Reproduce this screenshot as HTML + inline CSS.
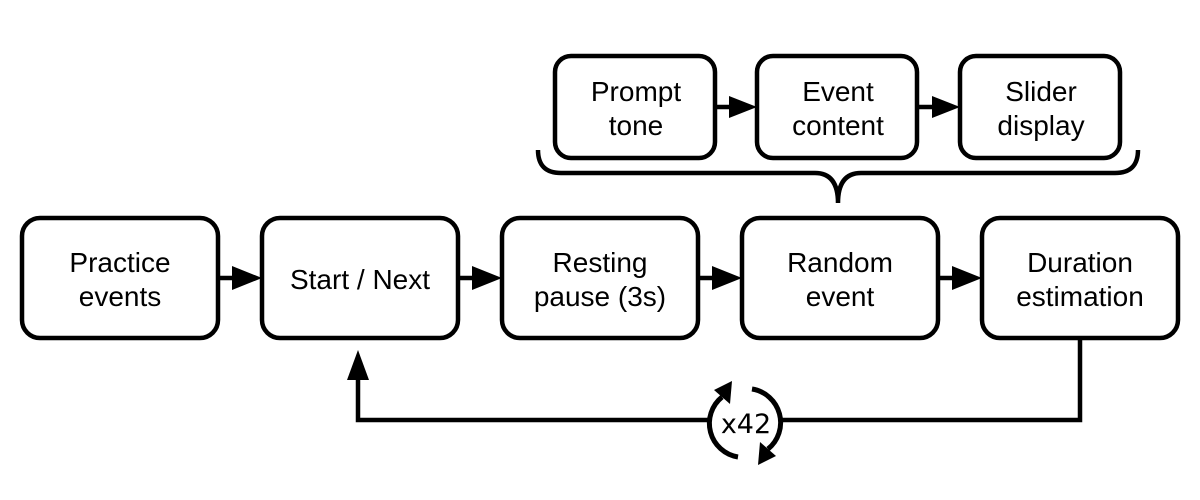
<!DOCTYPE html>
<html><head><meta charset="utf-8"><style>html,body{margin:0;background:#fff}svg{display:block}</style></head><body>
<svg width="1200" height="500" viewBox="0 0 1200 500" xmlns="http://www.w3.org/2000/svg">
<g fill="#fff" stroke="#000" stroke-width="4.5">
<rect x="22" y="218" width="196" height="120" rx="18"/>
<rect x="262" y="218" width="196" height="120" rx="18"/>
<rect x="502" y="218" width="196" height="120" rx="18"/>
<rect x="742" y="218" width="196" height="120" rx="18"/>
<rect x="982" y="218" width="196" height="120" rx="18"/>
<rect x="555" y="56" width="160" height="102" rx="16"/>
<rect x="757" y="56" width="160" height="102" rx="16"/>
<rect x="960" y="56" width="160" height="102" rx="16"/>
</g>
<g stroke="#000" stroke-width="4.5" fill="#000">
<line x1="218" y1="278" x2="236" y2="278"/><path d="M232,266 L262,278 L232,290z" stroke="none"/>
<line x1="458" y1="278" x2="476" y2="278"/><path d="M472,266 L502,278 L472,290z" stroke="none"/>
<line x1="698" y1="278" x2="716" y2="278"/><path d="M712,266 L742,278 L712,290z" stroke="none"/>
<line x1="938" y1="278" x2="956" y2="278"/><path d="M952,266 L982,278 L952,290z" stroke="none"/>
<line x1="715" y1="107" x2="732" y2="107"/><path d="M729,96 L757,107 L729,118z" stroke="none"/>
<line x1="917" y1="107" x2="935" y2="107"/><path d="M932,96 L960,107 L932,118z" stroke="none"/>
<polyline points="1080,338 1080,420 358,420 358,375" fill="none"/>
<path d="M347,380 L358,350 L369,380z" stroke="none"/>
<path d="M538,150 Q538,173 561,173 L815,173 Q838,173 838,203 Q838,173 861,173 L1115,173 Q1138,173 1138,150" fill="none"/>
</g>
<circle cx="745" cy="423" r="34" fill="#fff"/>
<g fill="none" stroke="#000" stroke-width="5">
<path d="M738,457 A34,34 0 0 1 722,397"/>
<path d="M752,389 A34,34 0 0 1 768,449"/>
</g>
<path d="M714,390 L732,381 L730,404z"/>
<path d="M776,456 L758,465 L760,442z"/>
<g font-family="Liberation Sans, sans-serif" font-size="28" text-anchor="middle" fill="#000">
<text x="120" y="272">Practice</text><text x="120" y="306">events</text>
<text x="360" y="289">Start / Next</text>
<text x="600" y="272">Resting</text><text x="600" y="306">pause (3s)</text>
<text x="840" y="272">Random</text><text x="840" y="306">event</text>
<text x="1080" y="272">Duration</text><text x="1080" y="306">estimation</text>
<text x="636" y="101">Prompt</text><text x="636" y="135">tone</text>
<text x="838" y="101">Event</text><text x="838" y="135">content</text>
<text x="1041" y="101">Slider</text><text x="1041" y="135">display</text>
</g>
<text x="746" y="433" font-family="DejaVu Sans, sans-serif" font-size="27" text-anchor="middle">x42</text>
</svg>
</body></html>
